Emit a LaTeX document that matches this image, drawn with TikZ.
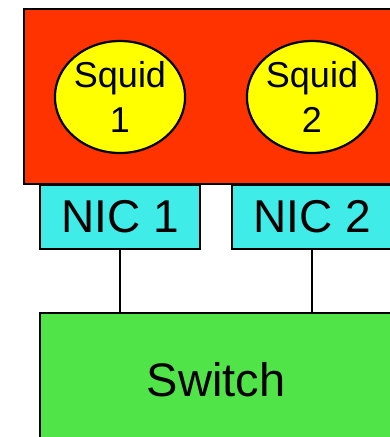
\documentclass[tikz,border=0pt]{standalone}
\usepackage{fontspec}
\setmainfont{Liberation Sans}
\usetikzlibrary{shapes.geometric}
\definecolor{hostred}{HTML}{FF3300}
\definecolor{squidyellow}{HTML}{FFFF00}
\definecolor{niccyan}{HTML}{40ECE8}
\definecolor{switchgreen}{HTML}{50E448}
\begin{document}
\begin{tikzpicture}[x=1pt,y=-1pt,
  box/.style={draw=black, line width=2.2pt, inner sep=0pt, outer sep=0pt},
  hostbox/.style={box, fill=hostred},
  squid/.style={draw=black, line width=2.2pt, ellipse, fill=squidyellow, inner sep=0pt,
    minimum width=128pt, minimum height=112pt, align=center,
    font=\fontsize{36}{45}\selectfont},
  nicbox/.style={box, fill=niccyan, minimum width=160pt, minimum height=64pt,
    font=\fontsize{46}{50}\selectfont},
  switchbox/.style={box, fill=switchgreen, minimum width=352pt, minimum height=134pt,
    font=\fontsize{47}{50}\selectfont},
  link/.style={draw=black, line width=1.6pt}]
\useasboundingbox (0,0) rectangle (390,437);
\clip (0,0) rectangle (390,437);
% host machine
\node[hostbox, minimum width=400pt, minimum height=175pt, anchor=north west] (host) at (24,9) {};
% squid processes
\node[squid] (squid1) at (120,97) {Squid\\1};
\node[squid] (squid2) at (312,97) {Squid\\2};
% network cards
\node[nicbox, anchor=north west] (nic1) at (40,185) {NIC 1};
\node[nicbox, anchor=north west] (nic2) at (232,185) {NIC 2};
% switch
\node[switchbox, anchor=north west] (switch) at (40,313) {Switch};
% cables
\draw[link] (nic1.south) -- (nic1.south |- switch.north);
\draw[link] (nic2.south) -- (nic2.south |- switch.north);
\end{tikzpicture}
\end{document}
